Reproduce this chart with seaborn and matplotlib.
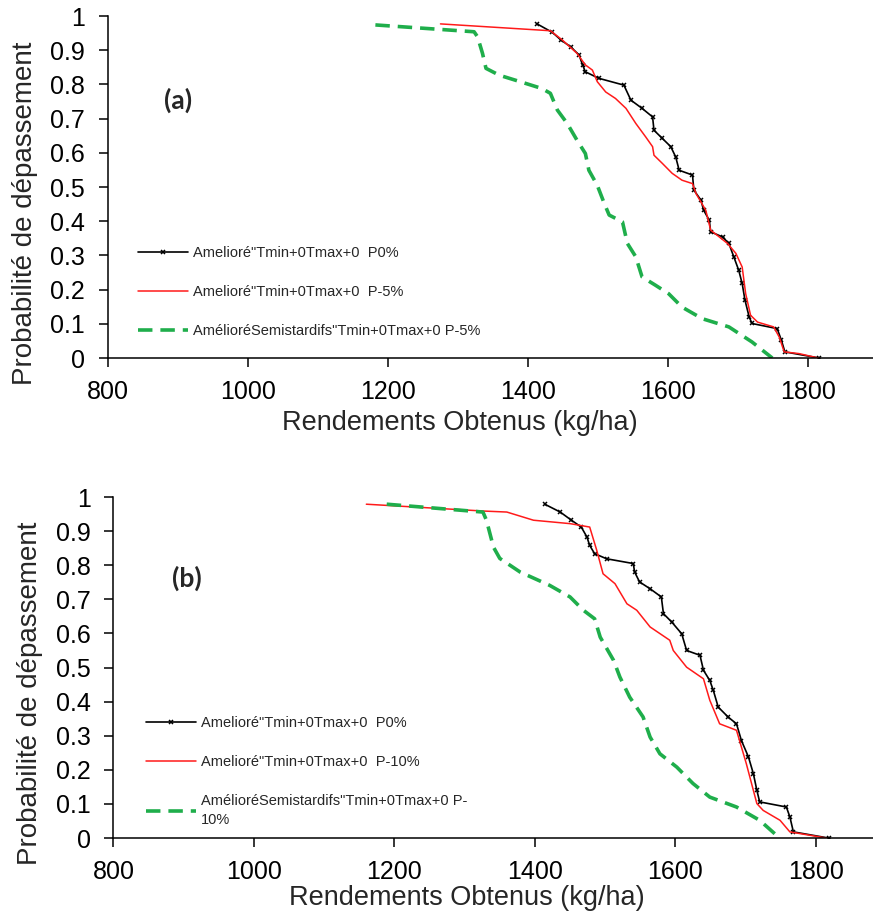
import numpy as np
import pandas as pd
import seaborn as sns
import matplotlib
matplotlib.use("Agg")
import matplotlib.pyplot as plt
from matplotlib.ticker import FuncFormatter

# ---- panel (a) ----
a_p0_x = [1413, 1435, 1447, 1461, 1473, 1478, 1482, 1501, 1537, 1547, 1563, 1578,
          1580, 1592, 1604, 1611, 1616, 1635, 1637, 1647, 1651, 1659, 1661, 1678,
          1687, 1694, 1701, 1706, 1710, 1716, 1720, 1756, 1762, 1767, 1816]
a_p0_y = [0.977, 0.952, 0.930, 0.910, 0.886, 0.857, 0.837, 0.818, 0.798, 0.754, 0.730, 0.705,
          0.666, 0.642, 0.618, 0.588, 0.549, 0.535, 0.491, 0.462, 0.432, 0.403, 0.369, 0.354,
          0.335, 0.296, 0.257, 0.218, 0.169, 0.120, 0.101, 0.086, 0.052, 0.018, 0.0]

a_p5_x = [1275, 1432, 1449, 1470, 1482, 1492, 1499, 1511, 1525, 1540, 1554, 1568,
          1578, 1580, 1592, 1606, 1620, 1635, 1640, 1654, 1661, 1685, 1697, 1706,
          1711, 1718, 1728, 1751, 1759, 1766, 1787, 1815]
a_p5_y = [0.977, 0.957, 0.930, 0.891, 0.857, 0.842, 0.808, 0.778, 0.759, 0.730, 0.686, 0.647,
          0.618, 0.593, 0.569, 0.540, 0.520, 0.510, 0.481, 0.432, 0.374, 0.335, 0.306, 0.266,
          0.188, 0.125, 0.105, 0.091, 0.061, 0.018, 0.013, 0.0]

a_semi_x = [1182, 1323, 1328, 1335, 1340, 1359, 1392, 1420, 1432, 1442, 1456, 1470,
            1482, 1487, 1499, 1509, 1516, 1535, 1542, 1554, 1563, 1582, 1601, 1620,
            1649, 1687, 1720, 1749]
a_semi_y = [0.974, 0.954, 0.939, 0.891, 0.847, 0.827, 0.806, 0.788, 0.774, 0.725, 0.686, 0.637,
            0.598, 0.549, 0.505, 0.452, 0.418, 0.398, 0.335, 0.296, 0.237, 0.213, 0.188, 0.149,
            0.115, 0.091, 0.047, 0.0]

# ---- panel (b) ----
b_p0_x = [1414, 1436, 1452, 1466, 1474, 1478, 1485, 1502, 1540, 1542, 1549, 1564,
          1580, 1583, 1595, 1609, 1616, 1635, 1640, 1649, 1654, 1661, 1675, 1687,
          1694, 1704, 1711, 1716, 1720, 1758, 1763, 1768, 1818]
b_p0_y = [0.979, 0.956, 0.932, 0.912, 0.883, 0.858, 0.834, 0.819, 0.805, 0.780, 0.751, 0.731,
          0.707, 0.658, 0.633, 0.599, 0.550, 0.536, 0.492, 0.462, 0.433, 0.384, 0.355, 0.335,
          0.286, 0.238, 0.189, 0.140, 0.106, 0.091, 0.062, 0.018, 0.0]

b_p10_x = [1160, 1326, 1360, 1398, 1450, 1478, 1488, 1497, 1514, 1531, 1545, 1564,
           1592, 1597, 1616, 1640, 1649, 1663, 1687, 1701, 1716, 1725, 1749, 1763, 1815]
b_p10_y = [0.979, 0.959, 0.956, 0.932, 0.922, 0.912, 0.844, 0.775, 0.746, 0.687, 0.668, 0.619,
           0.580, 0.550, 0.501, 0.467, 0.404, 0.335, 0.316, 0.218, 0.101, 0.081, 0.052, 0.018, 0.0]

b_semi_x = [1189, 1326, 1331, 1341, 1350, 1379, 1421, 1450, 1469, 1485, 1493, 1512,
            1521, 1535, 1554, 1564, 1578, 1602, 1625, 1649, 1687, 1720, 1744]
b_semi_y = [0.979, 0.956, 0.932, 0.853, 0.820, 0.780, 0.741, 0.707, 0.668, 0.643, 0.589, 0.521,
            0.472, 0.413, 0.355, 0.296, 0.247, 0.208, 0.160, 0.120, 0.091, 0.052, 0.008]

lab_p0 = 'Amelioré"Tmin+0Tmax+0  P0%'
lab_a_p5 = 'Amelioré"Tmin+0Tmax+0  P-5%'
lab_a_semi = 'AmélioréSemistardifs"Tmin+0Tmax+0 P-5%'
lab_b_p10 = 'Amelioré"Tmin+0Tmax+0  P-10%'
lab_b_semi = 'AmélioréSemistardifs"Tmin+0Tmax+0 P-\n10%'

y_ticks = [0, 0.1, 0.2, 0.3, 0.4, 0.5, 0.6, 0.7, 0.8, 0.9, 1.0]
x_ticks = [800, 1000, 1200, 1400, 1600, 1800]

GREEN = "#1fae4b"


def make_df(x, y):
    return pd.DataFrame({"Rendement": x, "Probabilite": y})


def draw_panel(ax, series, tag, tag_pos, leg_anchor, xlab_pad):
    (x0, y0, l0), (x1, y1, l1), (x2, y2, l2) = series
    sns.lineplot(data=make_df(x0, y0), x="Rendement", y="Probabilite", sort=False,
                 estimator=None, color="black", lw=1.2, marker="x", ms=3.5, mew=1.1,
                 mec="black", label=l0, ax=ax)
    sns.lineplot(data=make_df(x1, y1), x="Rendement", y="Probabilite", sort=False,
                 estimator=None, color="#ff1a1a", lw=1.1, label=l1, ax=ax)
    sns.lineplot(data=make_df(x2, y2), x="Rendement", y="Probabilite", sort=False,
                 estimator=None, color=GREEN, lw=2.6, linestyle=(0, (4, 2.2)),
                 label=l2, ax=ax)

    ax.set_xlim(800, 1900)
    ax.set_ylim(0, 1)
    ax.set_xticks(x_ticks)
    ax.set_yticks(y_ticks)
    ax.yaxis.set_major_formatter(FuncFormatter(lambda v, p: f"{v:g}"))
    ax.tick_params(axis="both", direction="out", length=6.5, width=1.1,
                   color="black", labelsize=18, labelcolor="black")
    ax.tick_params(axis="x", pad=9)
    ax.tick_params(axis="y", pad=10)
    sns.despine(ax=ax)
    for s in ["left", "bottom"]:
        ax.spines[s].set_color("black")
        ax.spines[s].set_linewidth(1.1)

    ax.set_xlabel("Rendements Obtenus (kg/ha)", fontsize=19.5, labelpad=xlab_pad)
    ax.xaxis.label.set_x(0.457)
    ax.set_ylabel("Probabilité de dépassement", fontsize=20, labelpad=9)
    ax.yaxis.label.set_y(0.424)

    ax.text(tag_pos[0], tag_pos[1], tag, transform=ax.transAxes, fontsize=19,
            fontweight="bold", family=["Lato", "DejaVu Sans"], ha="center", va="center")

    leg = ax.legend(loc="upper left", bbox_to_anchor=leg_anchor, frameon=False,
                    fontsize=10.5, handlelength=3.4, handletextpad=0.4, labelspacing=1.7,
                    borderpad=0, borderaxespad=0, numpoints=1)
    for t in leg.get_texts():
        t.set_linespacing(1.5)


sns.set_style("ticks")
plt.rcParams["font.family"] = ["Liberation Sans", "DejaVu Sans"]

fig = plt.figure(figsize=(8.73, 9.11), dpi=100)
ax_a = fig.add_axes([0.1237, 0.607, 0.882, 0.3754])
ax_b = fig.add_axes([0.130, 0.0801, 0.885, 0.3743])

draw_panel(ax_a,
           [(a_p0_x, a_p0_y, lab_p0), (a_p5_x, a_p5_y, lab_a_p5), (a_semi_x, a_semi_y, lab_a_semi)],
           "(a)", (0.091, 0.754), (0.039, 0.327), 4.5)
draw_panel(ax_b,
           [(b_p0_x, b_p0_y, lab_p0), (b_p10_x, b_p10_y, lab_b_p10), (b_semi_x, b_semi_y, lab_b_semi)],
           "(b)", (0.095, 0.762), (0.042, 0.357), 1)

fig.savefig("out.png", dpi=100)
